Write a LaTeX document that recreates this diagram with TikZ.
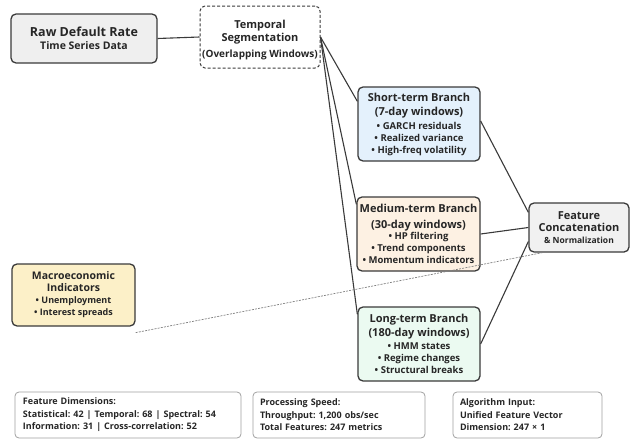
\documentclass[tikz,border=0pt]{standalone}
\usepackage{fontspec}
\setmainfont{Open Sans}
\usetikzlibrary{calc}
\frenchspacing
\definecolor{linec}{HTML}{3A3A3A}
\definecolor{rawfill}{HTML}{EFEFEF}
\definecolor{shortfill}{HTML}{E4F1FC}
\definecolor{medfill}{HTML}{FDF1E3}
\definecolor{longfill}{HTML}{EBFAF1}
\definecolor{featfill}{HTML}{F1F1F1}
\definecolor{macrofill}{HTML}{FCF0C8}
\definecolor{infoline}{HTML}{A0A0A0}
\newcommand{\hdr}[1]{{\fontsize{11}{13}\selectfont #1}}
\newcommand{\hdrbig}[1]{{\fontsize{12.5}{14}\selectfont #1}}
\begin{document}
\begin{tikzpicture}[x=1pt,y=-1pt,
  box/.style={draw=linec, line width=1.3pt, rounded corners=5pt, align=center, inner sep=0pt,
    font=\bfseries\fontsize{9.5}{12}\selectfont, text=black!85},
  txt/.style={align=center, inner sep=0pt, font=\bfseries\fontsize{9.5}{12}\selectfont, text=black!85},
  infobox/.style={draw=infoline, line width=0.8pt, rounded corners=4pt, align=left, inner sep=0pt,
    font=\bfseries\fontsize{9}{12.5}\selectfont, text=black!85},
  conn/.style={draw=linec, line width=1.1pt},
  dconn/.style={draw=gray, line width=0.7pt, dash pattern=on 2pt off 1.2pt}
]
\useasboundingbox (0,0) rectangle (630,439);

\node[box, fill=rawfill, minimum width=146pt, minimum height=49pt] (raw) at (84,38.5)
  {\hdrbig{Raw Default Rate}\\[1pt]{\fontsize{10.5}{12}\selectfont Time Series Data}};

\node[box, fill=white, dash pattern=on 3pt off 2pt, line width=1pt, minimum width=120pt, minimum height=62pt] (temp) at (260,37) {};
\node[txt] (templabel) at (260,40)
  {\hdr{Temporal}\\[1pt]\hdr{Segmentation}\\[4pt]{\fontsize{10}{11}\selectfont (Overlapping Windows)}};

\node[box, fill=shortfill, minimum width=122pt, minimum height=74pt] (short) at (419,124)
  {\hdr{Short-term Branch}\\[2pt]\hdr{(7-day windows)}\\[2pt]• GARCH residuals\\• Realized variance\\• High-freq volatility};

\node[box, fill=medfill, minimum width=123pt, minimum height=74pt] (medium) at (418.5,234)
  {\hdr{Medium-term Branch}\\[4pt]\hdr{(30-day windows)}\\[-1pt]• HP filtering\\• Trend components\\• Momentum indicators};

\node[box, fill=longfill, minimum width=122pt, minimum height=74pt] (long) at (419,344)
  {\hdr{Long-term Branch}\\[2pt]\hdr{(180-day windows)}\\[1pt]• HMM states\\• Regime changes\\• Structural breaks};

\node[box, fill=featfill, minimum width=100pt, minimum height=49pt] (feat) at (579,227.5)
  {{\fontsize{11}{12}\selectfont Feature}\\[0pt]{\fontsize{11}{12}\selectfont Concatenation}\\[0pt]{\fontsize{8.5}{10}\selectfont \& Normalization}};

\node[box, fill=macrofill, minimum width=123pt, minimum height=62pt] (macro) at (73.5,295)
  {{\fontsize{10.5}{12}\selectfont Macroeconomic}\\[0pt]{\fontsize{10.5}{12}\selectfont Indicators}\\[0pt]{\fontsize{9}{11}\selectfont • Unemployment}\\{\fontsize{9}{11}\selectfont • Interest spreads}};

\node[infobox, minimum width=226pt, minimum height=46pt, text width=210pt] (dims) at (128,415)
  {Feature Dimensions:\\Statistical: 42 | Temporal: 68 | Spectral: 54\\Information: 31 | Cross-correlation: 52};
\node[infobox, minimum width=172pt, minimum height=46pt, text width=158pt] (speed) at (339,415)
  {Processing Speed:\\Throughput: 1,200 obs/sec\\Total Features: 247 metrics};
\node[infobox, minimum width=149pt, minimum height=46pt, text width=135pt] (input) at (527.5,415)
  {Algorithm Input:\\Unified Feature Vector\\Dimension: 247 × 1};

% connectors
\draw[conn] (raw.east) -- (temp.west);
\draw[conn] (temp.east) -- ([yshift=-15pt]short.north west);
\draw[conn] (temp.east) -- ([yshift=-8pt]medium.north west);
\draw[conn] (temp.east) -- ([yshift=-8pt]long.north west);
\draw[conn] ([yshift=3pt]short.east) -- ([yshift=-10pt]feat.north west);
\draw[conn] (medium.east) -- (feat.west);
\draw[conn] (long.east) -- ([yshift=-14pt]feat.west);
\draw[dconn] ([yshift=-6pt]macro.south east) -- ([xshift=14pt]feat.south west);
\end{tikzpicture}
\end{document}
